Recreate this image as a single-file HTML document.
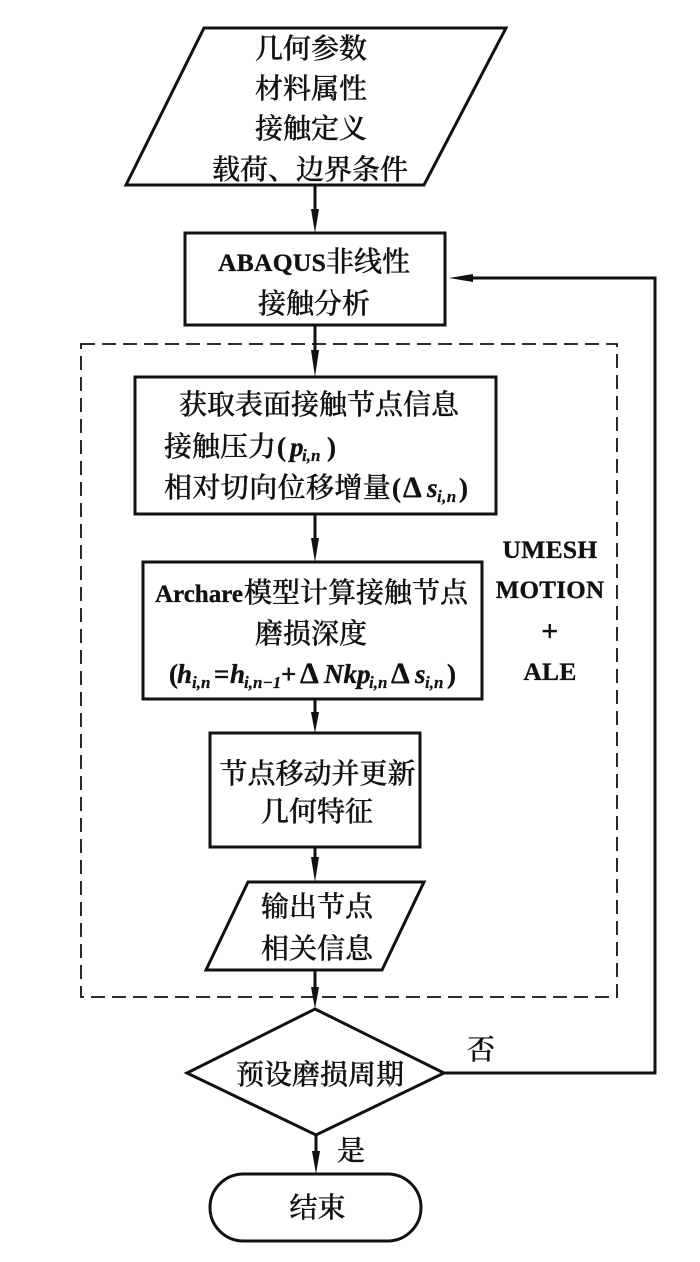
<!DOCTYPE html>
<html><head><meta charset="utf-8">
<style>
html,body{margin:0;padding:0;background:#fff;width:700px;height:1262px;overflow:hidden}
svg{display:block}
text{font-family:"Noto Serif CJK SC","Liberation Serif",serif;font-size:28px;fill:#111;font-weight:500;stroke:#111;stroke-width:.35}
.c{text-anchor:middle}
.b{font-family:"Liberation Serif","Noto Serif CJK SC",serif;font-weight:700;font-size:25.5px;letter-spacing:.3px}
.m{font-family:"Liberation Serif","Noto Serif CJK SC",serif;font-weight:700;font-size:27px}
.d{font-size:30px}
.i{font-style:italic}
.s{stroke:#111;stroke-width:3;fill:#fff}
.l{stroke:#111;stroke-width:3;fill:none}
.sub{font-size:17px;stroke-width:.2}
</style></head><body>
<svg width="700" height="1262" viewBox="0 0 700 1262" xmlns="http://www.w3.org/2000/svg">
<rect width="700" height="1262" fill="#fff"/>
<rect x="81" y="344" width="536" height="653" fill="none" stroke="#111" stroke-width="1.8" stroke-dasharray="14 7"/>

<path class="l" d="M315 185V215M315 325V364M315 514V545M315 699V716M315 847V866M315 970V993M316 1135V1158"/>
<path class="l" d="M444 1073H655V278H465"/>
<g fill="#111">
<path d="M311 209L319 209L315 233Z"/>
<path d="M311 350L319 350L315 377Z"/>
<path d="M311 538L319 538L315 562Z"/>
<path d="M311 712L319 712L315 733Z"/>
<path d="M311 857L319 857L315 882Z"/>
<path d="M311 987L319 987L315 1009Z"/>
<path d="M312 1151L320 1151L316 1174Z"/>
<path d="M449 278L473 274L473 282Z"/>
</g>

<path class="s" d="M204 28H506L424 185H126Z"/>
<rect class="s" x="185" y="233" width="260" height="92"/>
<rect class="s" x="135" y="377" width="361" height="137"/>
<rect class="s" x="143" y="562" width="339" height="137"/>
<rect class="s" x="210" y="733" width="210" height="114"/>
<path class="s" d="M248 882H424L382 970H206Z"/>
<path class="s" d="M315 1009L444 1073L316 1135L187 1073Z"/>
<rect class="s" x="210" y="1174" width="211" height="67" rx="33.5" ry="33.5"/>

<text class="c" x="311" y="58">几何参数</text>
<text class="c" x="311" y="98">材料属性</text>
<text class="c" x="311" y="138">接触定义</text>
<text class="c" x="310" y="179">载荷、边界条件</text>

<text x="218" y="271"><tspan class="b">ABAQUS</tspan><tspan x="326">非线性</tspan></text>
<text class="c" x="314" y="313">接触分析</text>

<text class="c" x="319" y="414">获取表面接触节点信息</text>
<text x="164" y="456">接触压力<tspan class="m" x="277">(</tspan><tspan class="i m" x="290">p</tspan><tspan class="i m sub" x="302" dy="5">i,n</tspan><tspan class="m" x="327" dy="-5">)</tspan></text>
<text x="164" y="497" letter-spacing=".4">相对切向位移增量<tspan class="m" x="392">(</tspan><tspan class="m d" x="403">Δ</tspan><tspan class="i m" x="427">s</tspan><tspan class="i m sub" x="437" dy="5">i,n</tspan><tspan class="m" x="459" dy="-5">)</tspan></text>

<text x="155" y="602"><tspan class="b" style="letter-spacing:0;font-size:25px">Archare</tspan><tspan x="244">模型计算接触节点</tspan></text>
<text class="c" x="311" y="643">磨损深度</text>
<text x="169" y="683"><tspan class="m">(</tspan><tspan class="m i" x="177">h</tspan><tspan class="m i sub" x="192" dy="5">i,n</tspan><tspan class="m" x="214" dy="-5">=</tspan><tspan class="m i" x="230">h</tspan><tspan class="m i sub" x="244" dy="5">i,n−1</tspan><tspan class="m" x="281" dy="-5">+</tspan><tspan class="m d" x="300">Δ</tspan><tspan class="m i" x="324">Nkp</tspan><tspan class="m i sub" x="369" dy="5">i,n</tspan><tspan class="m d" x="391" dy="-5">Δ</tspan><tspan class="m i" x="415">s</tspan><tspan class="m i sub" x="425" dy="5">i,n</tspan><tspan class="m" x="447" dy="-5">)</tspan></text>

<text class="c" x="317.5" y="783">节点移动并更新</text>
<text class="c" x="317" y="821">几何特征</text>
<text class="c" x="317" y="916">输出节点</text>
<text class="c" x="317" y="958">相关信息</text>

<text class="c" x="320" y="1084">预设磨损周期</text>
<text class="c" x="317.5" y="1217">结束</text>
<text class="c" x="481" y="1059">否</text>
<text class="c" x="351" y="1160">是</text>

<text class="c b" x="550" y="558">UMESH</text>
<text class="c b" x="550" y="598" style="font-size:25px">MOTION</text>
<text class="c b" x="550" y="641" style="font-size:30px">+</text>
<text class="c b" x="550" y="680">ALE</text>
</svg>
</body></html>
